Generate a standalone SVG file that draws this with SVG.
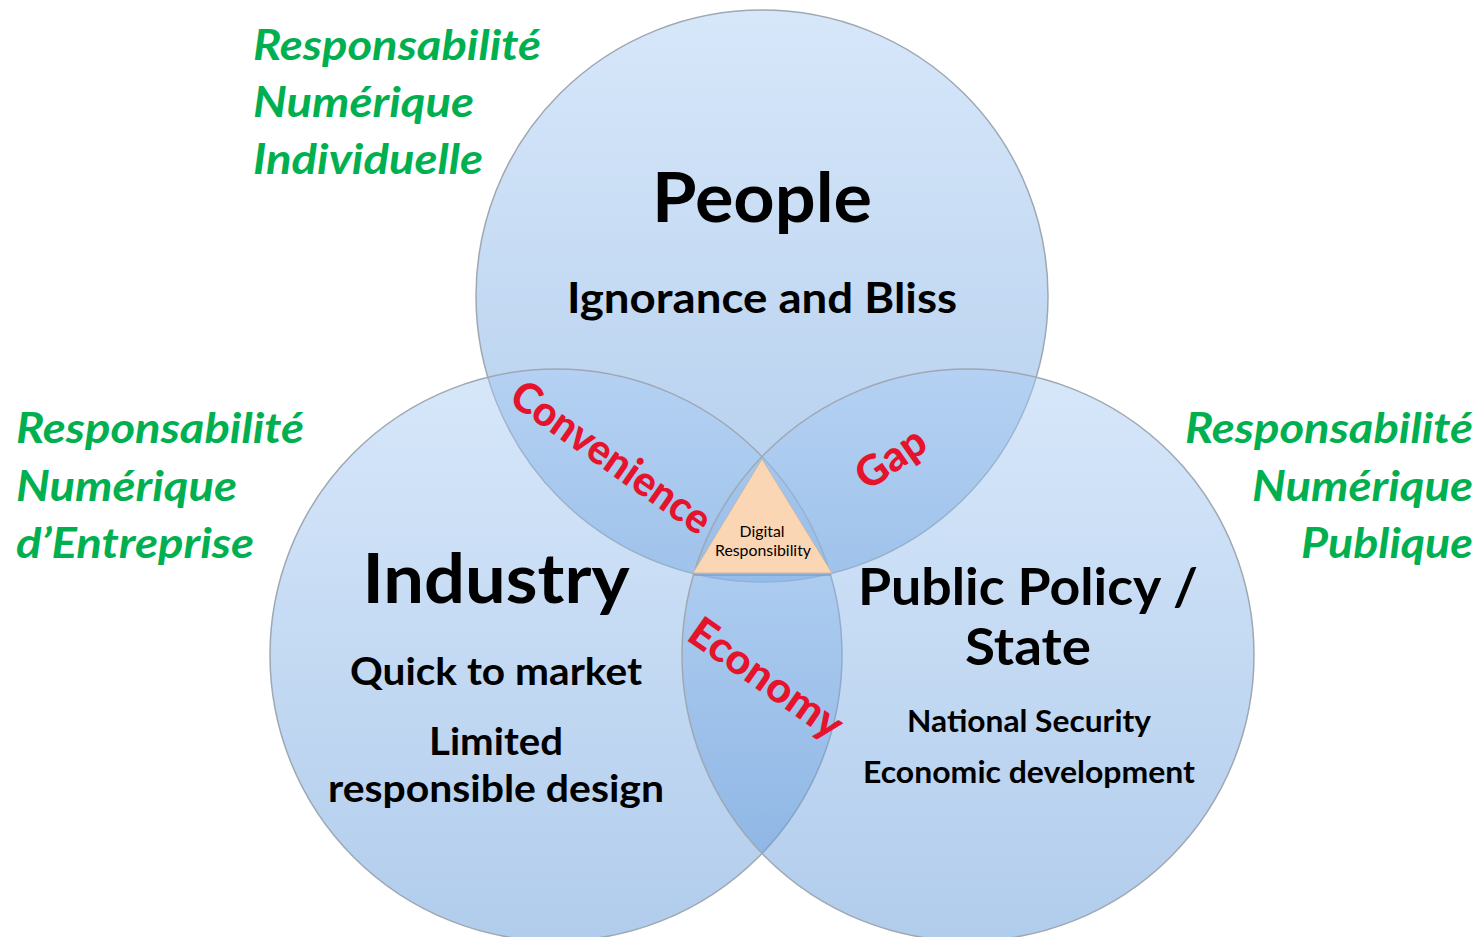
<svg xmlns="http://www.w3.org/2000/svg" width="1482" height="937" viewBox="0 0 1482 937">
<defs>
<linearGradient id="cg" x1="0" y1="0" x2="0" y2="1">
<stop offset="0" stop-color="#a8cbf4"/>
<stop offset="1" stop-color="#5591d6"/>
</linearGradient>
<style>
.c{fill:url(#cg);fill-opacity:0.46;stroke:#9ea8b2;stroke-width:1.5}
.t{font-family:Lato,"Open Sans",sans-serif;font-weight:700;fill:#000;text-anchor:middle}
.s{font-family:Lato,"Open Sans",sans-serif;font-weight:400;fill:#000;text-anchor:middle;font-size:15px}
.g{font-family:Lato,"Open Sans",sans-serif;font-weight:700;font-style:italic;fill:#00b050;font-size:42px}
.r{font-family:Lato,"Open Sans",sans-serif;font-weight:900;fill:#e5132b;text-anchor:middle;font-size:42px}
</style>
</defs>
<rect width="1482" height="937" fill="#fff"/>
<g id="circles">
<g id="people"><circle class="c" cx="762" cy="296" r="286"/></g>
<g id="industry"><circle class="c" cx="556" cy="655" r="286"/></g>
<g id="state"><circle class="c" cx="968" cy="655" r="286"/></g>
</g>
<g id="core">
<polygon points="762,459 693,573 832,573" fill="#fbd6b4" stroke="#c9b7a6" stroke-width="1"/>
<line x1="694" y1="575" x2="831" y2="575" stroke="#7d9cc0" stroke-width="2" opacity="0.6"/>
<text class="s" x="762" y="537" textLength="45" lengthAdjust="spacingAndGlyphs">Digital</text>
<text class="s" x="763" y="556" textLength="96" lengthAdjust="spacingAndGlyphs">Responsibility</text>
</g>
<g id="people-text">
<text class="t" x="762" y="222" font-size="68" textLength="220" lengthAdjust="spacingAndGlyphs">People</text>
<text class="t" x="762" y="313" font-size="42" textLength="390" lengthAdjust="spacingAndGlyphs">Ignorance and Bliss</text>
</g>
<g id="industry-text">
<text class="t" x="496" y="603" font-size="69" textLength="267" lengthAdjust="spacingAndGlyphs">Industry</text>
<text class="t" x="496" y="685" font-size="38" textLength="292" lengthAdjust="spacingAndGlyphs">Quick to market</text>
<text class="t" x="496" y="755" font-size="38" textLength="134" lengthAdjust="spacingAndGlyphs">Limited</text>
<text class="t" x="496" y="802" font-size="38" textLength="336" lengthAdjust="spacingAndGlyphs">responsible design</text>
</g>
<g id="state-text">
<text class="t" x="1028" y="605" font-size="52" textLength="340" lengthAdjust="spacingAndGlyphs">Public Policy /</text>
<text class="t" x="1028" y="665" font-size="52" textLength="126" lengthAdjust="spacingAndGlyphs">State</text>
<text class="t" x="1029" y="732" font-size="30" textLength="244" lengthAdjust="spacingAndGlyphs">National Security</text>
<text class="t" x="1029" y="783" font-size="30" textLength="332" lengthAdjust="spacingAndGlyphs">Economic development</text>
</g>
<g id="overlaps">
<text class="r" transform="translate(603,469) rotate(35)" textLength="234" lengthAdjust="spacingAndGlyphs">Convenience</text>
<text class="r" transform="translate(899,470) rotate(-35)" textLength="76" lengthAdjust="spacingAndGlyphs">Gap</text>
<text class="r" transform="translate(758,690) rotate(35)" textLength="178" lengthAdjust="spacingAndGlyphs">Economy</text>
</g>
<g id="label-individuelle">
<text class="g" x="253" y="60" textLength="288" lengthAdjust="spacingAndGlyphs">Responsabilité</text>
<text class="g" x="253" y="117" textLength="221" lengthAdjust="spacingAndGlyphs">Numérique</text>
<text class="g" x="253" y="174" textLength="230" lengthAdjust="spacingAndGlyphs">Individuelle</text>
</g>
<g id="label-entreprise">
<text class="g" x="16" y="443" textLength="288" lengthAdjust="spacingAndGlyphs">Responsabilité</text>
<text class="g" x="16" y="501" textLength="221" lengthAdjust="spacingAndGlyphs">Numérique</text>
<text class="g" x="16" y="558" textLength="238" lengthAdjust="spacingAndGlyphs">d’Entreprise</text>
</g>
<g id="label-publique" text-anchor="end">
<text class="g" x="1473" y="443" textLength="288" lengthAdjust="spacingAndGlyphs">Responsabilité</text>
<text class="g" x="1473" y="501" textLength="221" lengthAdjust="spacingAndGlyphs">Numérique</text>
<text class="g" x="1473" y="558" textLength="172" lengthAdjust="spacingAndGlyphs">Publique</text>
</g>
</svg>
